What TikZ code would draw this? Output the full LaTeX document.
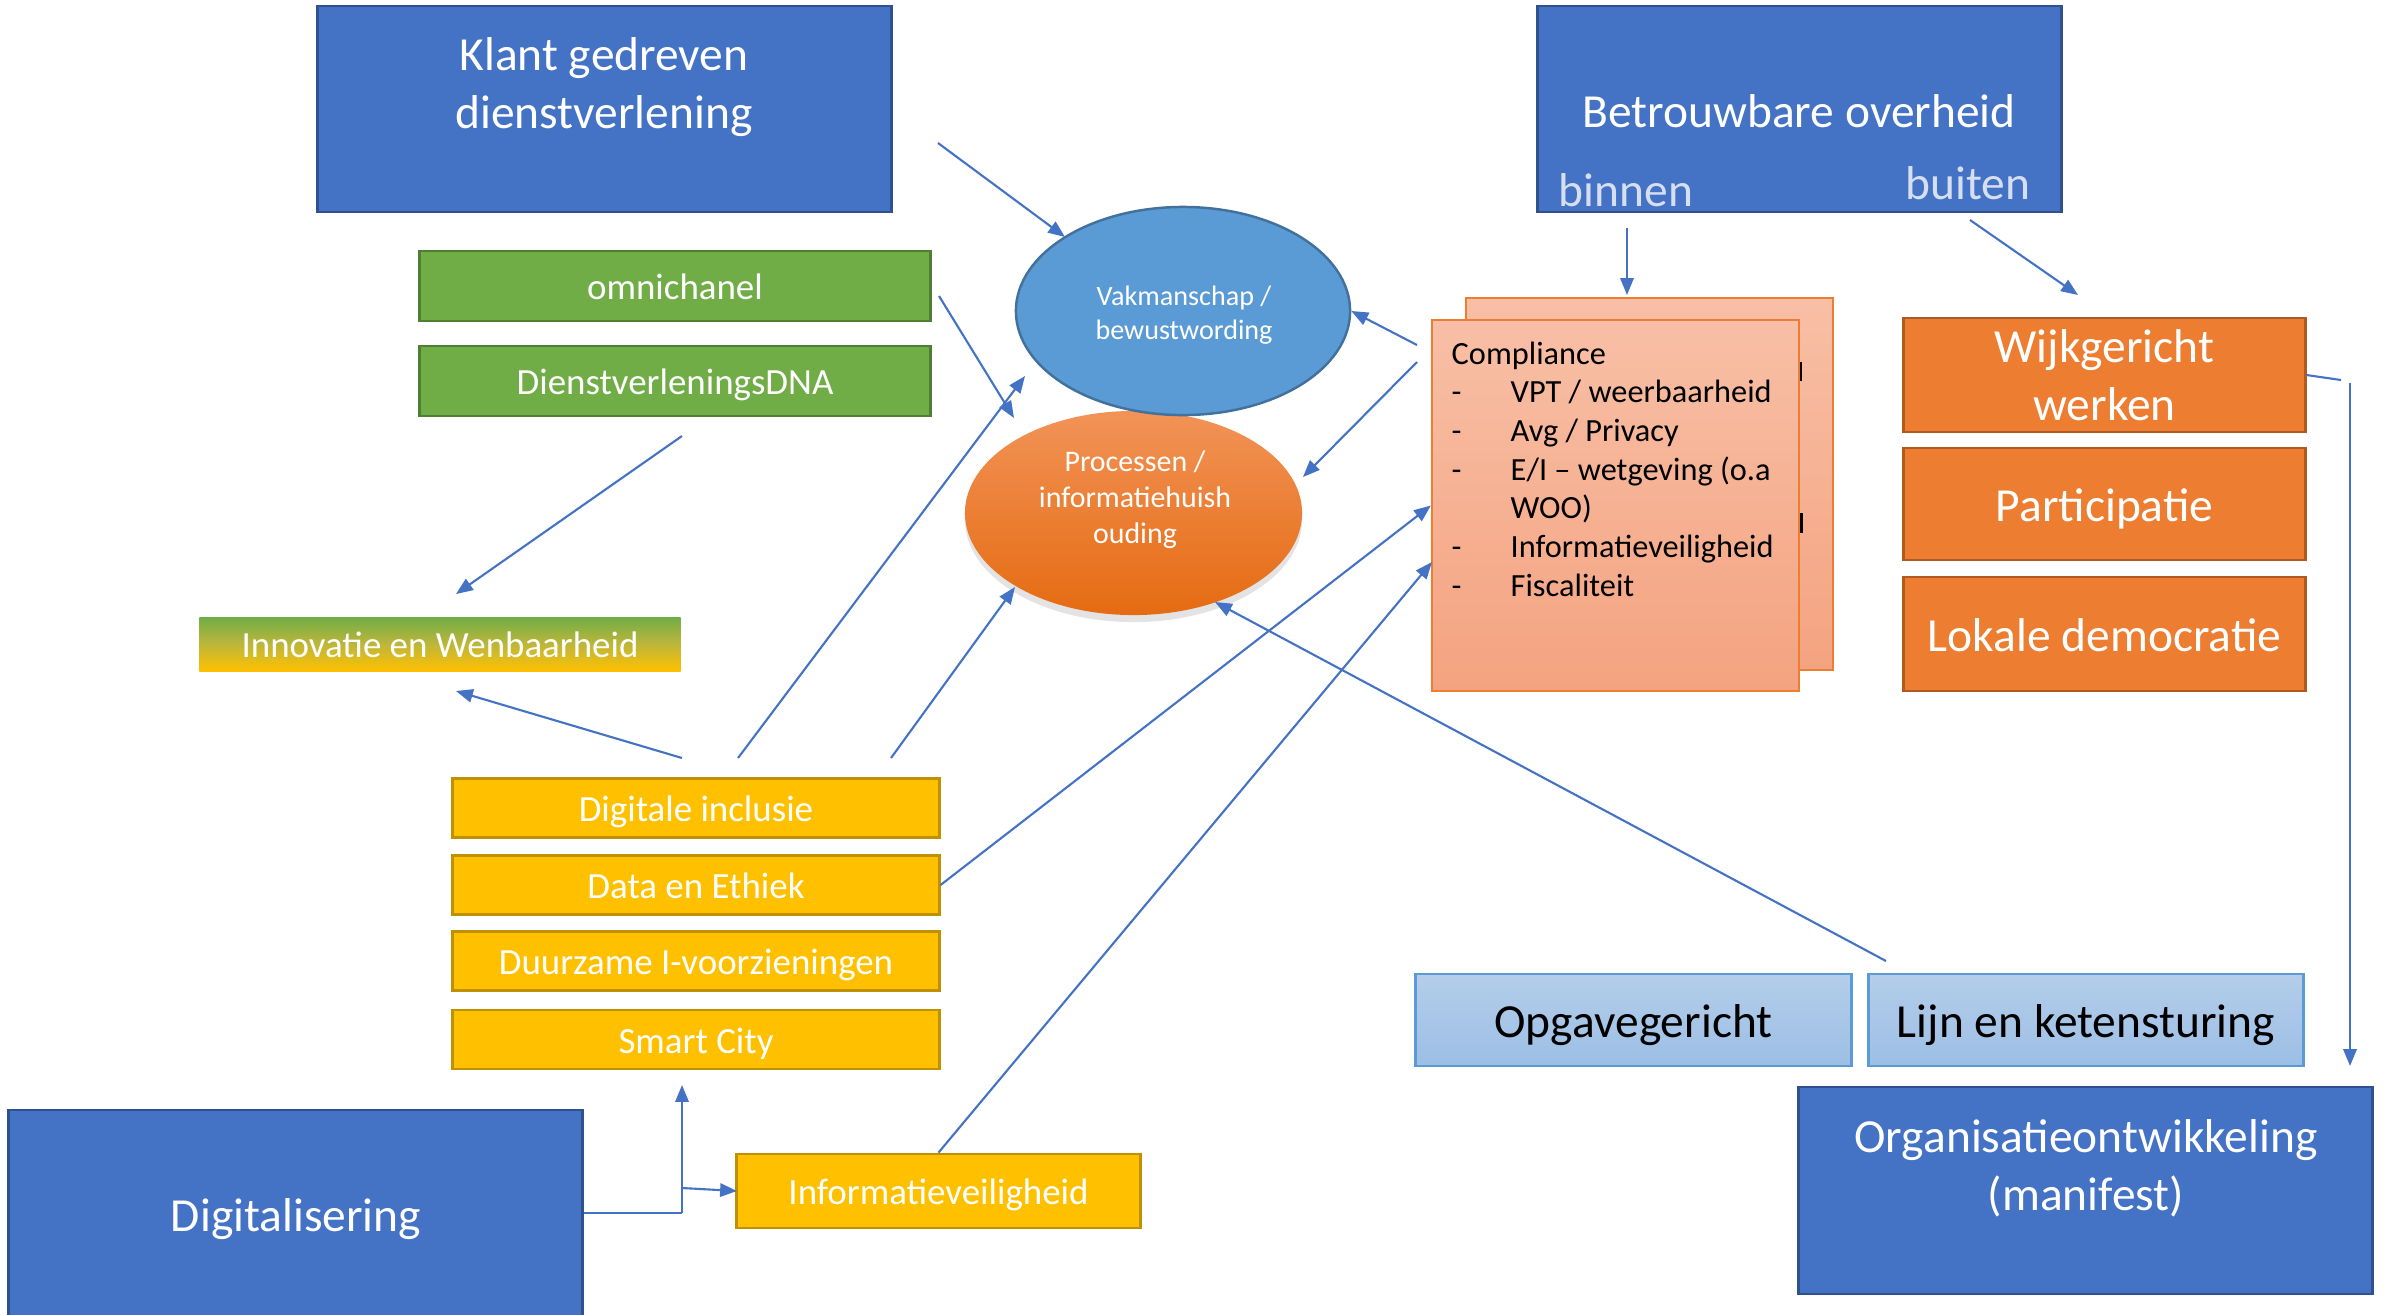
\documentclass[tikz,border=0pt]{standalone}
\usepackage{fontspec}
\setmainfont{Carlito}
\usetikzlibrary{arrows.meta,shapes.geometric,shadows,calc}
\definecolor{dblue}{HTML}{4472C4}
\definecolor{dblueb}{HTML}{2F528F}
\definecolor{grn}{HTML}{70AD47}
\definecolor{grnb}{HTML}{507E32}
\definecolor{yel}{HTML}{FFC000}
\definecolor{yelb}{HTML}{BF9000}
\definecolor{org}{HTML}{ED7D31}
\definecolor{orgb}{HTML}{AE5A21}
\definecolor{lblue}{HTML}{5B9BD5}
\definecolor{lblueb}{HTML}{41719C}
\definecolor{arrc}{HTML}{4472C4}
\definecolor{subtxt}{HTML}{D6DFF0}
\definecolor{lb1}{HTML}{B4CDEA}
\definecolor{lb2}{HTML}{9CBFE5}
\definecolor{cp1}{HTML}{F8BFA6}
\definecolor{cp2}{HTML}{F4A380}
\definecolor{pr1}{HTML}{F29357}
\definecolor{pr2}{HTML}{E56B12}
\definecolor{inmid}{HTML}{BDB63A}
\tikzset{
  tsmall/.style={font=\fontsize{10.5}{12.6}\selectfont, text height=9.98pt, text depth=2.29pt},
  tbig/.style={font=\fontsize{13.5}{16.5}\selectfont, text height=12.83pt, text depth=2.94pt},
  bbox/.style={rectangle, draw=dblueb, fill=dblue, line width=0.8pt, inner sep=0pt},
  gbox/.style={rectangle, draw=grnb, fill=grn, line width=0.8pt, inner sep=0pt, text=white, tsmall},
  ybox/.style={rectangle, draw=yelb, fill=yel, line width=0.8pt, inner sep=0pt, text=white, tsmall, minimum width=4.86cm},
  obox/.style={rectangle, draw=orgb, fill=org, line width=0.8pt, inner sep=0pt, text=white, tbig, minimum width=4.01cm, align=center},
  lbbox/.style={rectangle, draw=lblue, top color=lb1, bottom color=lb2, line width=0.8pt, inner sep=0pt, text=black, tbig, minimum width=4.35cm, minimum height=0.92cm},
  cbox/.style={rectangle, draw=org, top color=cp1, bottom color=cp2, line width=0.6pt, inner sep=0pt, minimum width=3.67cm, minimum height=3.71cm},
  wt/.style={text=white, inner sep=0pt},
  arr/.style={draw=arrc, line width=0.6pt, -{Triangle[length=4.8pt,width=3.8pt]}},
  ln/.style={draw=arrc, line width=0.6pt},
}
\begin{document}
\begin{tikzpicture}[x=0.01cm,y=-0.01cm]
\useasboundingbox[fill=white] (0,0) rectangle (2387,1314);

% big blue boxes
\node[bbox, minimum width=5.73cm, minimum height=2.06cm] (klant) at (604.5,109) {};
\node[wt, align=center, font=\fontsize{13.5}{16.5}\selectfont] (klantt) at (604,87) {Klant gedreven\\dienstverlening};

\node[bbox, minimum width=5.23cm, minimum height=2.06cm] (betr) at (1799.5,109) {};
\node[wt, font=\fontsize{13.5}{16.5}\selectfont] (betrt) at (1799,111) {Betrouwbare overheid};
\node[inner sep=0pt, text=subtxt, anchor=west, font=\fontsize{13.5}{16.5}\selectfont] (binnen) at (1558,190) {binnen};
\node[inner sep=0pt, text=subtxt, anchor=east, font=\fontsize{13.5}{16.5}\selectfont] (buiten) at (2031,183) {buiten};

\node[bbox, minimum width=5.73cm, minimum height=2.30cm] (digi) at (295.5,1225) {};
\node[wt, font=\fontsize{13.5}{16.5}\selectfont] (digit) at (296,1219) {Digitalisering};

\node[bbox, minimum width=5.73cm, minimum height=2.07cm] (orga) at (2085.5,1190.5) {};
\node[wt, align=center, font=\fontsize{13.5}{16.5}\selectfont] (orgat) at (2086,1168) {Organisatieontwikkeling\\(manifest)};

% green boxes
\node[gbox, minimum width=5.10cm, minimum height=0.70cm] (omni) at (675,286) {omnichanel};
\node[gbox, minimum width=5.10cm, minimum height=0.70cm] (dna) at (675,381) {DienstverleningsDNA};
\node[rectangle, inner sep=0pt, top color=grn, bottom color=yel, middle color=inmid, minimum width=4.81cm, minimum height=0.54cm, text=white, tsmall] (innov) at (440,644) {Innovatie en Wenbaarheid};

% ellipses
\node[ellipse, inner sep=0pt, minimum width=3.37cm, minimum height=2.04cm, top color=pr1, bottom color=pr2, drop shadow={shadow xshift=0pt, shadow yshift=-2pt, opacity=0.22}] (proc) at (1133.5,513) {};
\node[wt, align=center, font=\fontsize{8.5}{10.2}\selectfont] (proct) at (1135,500) {Processen /\\informatiehuish\\ouding};
\node[ellipse, inner sep=0pt, minimum width=3.34cm, minimum height=2.08cm, fill=lblue, draw=lblueb, line width=0.7pt] (vak) at (1183,311) {};
\node[wt, align=center, font=\fontsize{8}{9.6}\selectfont] (vakt) at (1184,315.5) {Vakmanschap /\\bewustwording};

% compliance stack
\node[cbox, minimum height=3.72cm] (compb) at (1649.5,484) {};
\fill[black] (1799,362) rectangle (1802,381);
\fill[black] (1799,513) rectangle (1803,533);
\node[cbox] (compf) at (1615.5,505.5) {};
\node[anchor=north west, inner sep=0pt, align=left, font=\fontsize{9.2}{11}\selectfont] (compt) at (1451,341) {Compliance\\
\makebox[0.59cm][l]{-}VPT / weerbaarheid\\
\makebox[0.59cm][l]{-}Avg / Privacy\\
\makebox[0.59cm][l]{-}E/I -- wetgeving (o.a\\
\makebox[0.59cm][l]{}WOO)\\
\makebox[0.59cm][l]{-}Informatieveiligheid\\
\makebox[0.59cm][l]{-}Fiscaliteit};

% orange boxes
\node[obox, minimum height=1.14cm, text height=, text depth=] (wijk) at (2104.5,375) {Wijkgericht\\werken};
\node[obox, minimum height=1.12cm] (part) at (2104.5,504) {Participatie};
\node[obox, minimum height=1.14cm] (lok) at (2104.5,634) {Lokale democratie};

% yellow boxes
\node[ybox, minimum height=0.59cm] (dincl) at (696,808) {Digitale inclusie};
\node[ybox, minimum height=0.59cm] (data) at (696,885) {Data en Ethiek};
\node[ybox, minimum height=0.59cm] (duur) at (696,961) {Duurzame I-voorzieningen};
\node[ybox, minimum height=0.59cm] (smart) at (696,1039.5) {Smart City};
\node[ybox, minimum width=4.03cm, minimum height=0.74cm] (infov) at (938.5,1191) {Informatieveiligheid};

% light blue boxes
\node[lbbox] (opg) at (1633.5,1020) {Opgavegericht};
\node[lbbox, minimum width=4.34cm] (lijn) at (2086,1020) {Lijn en ketensturing};

% free coordinates
\coordinate (a1) at (938,143);   \coordinate (a2) at (1065,237);
\coordinate (b1) at (939,296);   \coordinate (b2) at (1014,418);
\coordinate (c1) at (682,436);   \coordinate (c2) at (456,594);
\coordinate (d1) at (682,758);   \coordinate (d2) at (456,691);
\coordinate (e1) at (738,758);   \coordinate (e2) at (1025,376);
\coordinate (f1) at (891,758);   \coordinate (f2) at (1015,587);
\coordinate (g1) at (1417,345);
\coordinate (h1) at (1417,362);  \coordinate (h2) at (1303,477);
\coordinate (j2) at (1432,562);
\coordinate (k1) at (1886,961);  \coordinate (k2) at (1215,602);
\coordinate (l1) at (1627,228);  \coordinate (l2) at (1627,295);
\coordinate (m1) at (1970,220);  \coordinate (m2) at (2078,295);
\coordinate (n1) at (2341,380);  \coordinate (n2) at (2350,383); \coordinate (n3) at (2350,1066);
\coordinate (o1) at (682,1213);  \coordinate (o2) at (682,1085);
\coordinate (o3) at (682,1188);  \coordinate (o4) at (737,1191);

% connectors
\draw[arr] (a1) -- (a2);
\draw[arr] (b1) -- (b2);
\draw[arr] (c1) -- (c2);
\draw[arr] (d1) -- (d2);
\draw[arr] (e1) -- (e2);
\draw[arr] (f1) -- (f2);
\draw[arr] (g1) -- (vak.east);
\draw[arr] (h1) -- (h2);
\draw[arr] (data.east) -- (compf.west);
\draw[arr] (infov.north) -- (j2);
\draw[arr] (k1) -- (k2);
\draw[arr] (l1) -- (l2);
\draw[arr] (m1) -- (m2);
\draw[ln] (wijk.east) -- (n1);
\draw[arr] (n2) -- (n3);
\draw[ln] (digi.east |- o1) -- (o1);
\draw[arr] (o1) -- (o2);
\draw[arr] (o3) -- (o4);
\end{tikzpicture}
\end{document}
